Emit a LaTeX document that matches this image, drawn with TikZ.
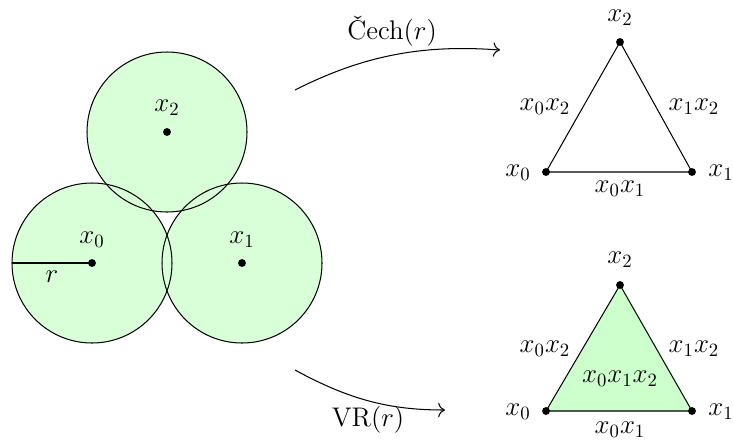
\documentclass[tikz,border=0pt]{standalone}
\usetikzlibrary{arrows.meta}
\begin{document}
\begin{tikzpicture}[x=0.0188cm,y=-0.0188cm,line width=0.55pt,
  ball/.style={fill=green!15},
  ballline/.style={draw=black},
  pt/.style={fill=black},
  lbl/.style={inner sep=1pt,font=\Large},
  arr/.style={-{To[scale=1.3]}},
  simplex/.style={fill=green!20}]
\useasboundingbox (0,0) rectangle (733,439);
% balls
\coordinate (b0) at (92,263);
\coordinate (b1) at (242,263);
\coordinate (b2) at (167,132);
\foreach \c in {b0,b1,b2} \fill[ball] (\c) circle (80);
\foreach \c in {b0,b1,b2} \draw[ballline] (\c) circle (80);
\coordinate (redge) at (12,263);
\draw (redge) -- (b0);
\node[lbl] (rl) at (52,277) {$r$};
\foreach \c in {b0,b1,b2} \fill[pt] (\c) circle (2.1pt);
\node[lbl] (lb0) at (92,240) {$x_0$};
\node[lbl] (lb1) at (242,240) {$x_1$};
\node[lbl] (lb2) at (167,108) {$x_2$};
% arrows
\coordinate (a1s) at (295,90);
\coordinate (a1e) at (500,50);
\draw[arr] (a1s) .. controls (370,52) and (430,45) .. (a1e);
\node[lbl] (cech) at (392,31) {\v{C}ech$(r)$};
\coordinate (a2s) at (295,370);
\coordinate (a2e) at (445,410);
\draw[arr] (a2s) .. controls (350,400) and (390,410) .. (a2e);
\node[lbl] (vr) at (368,420) {VR$(r)$};
% Cech complex
\coordinate (c0) at (546,172);
\coordinate (c1) at (692,172);
\coordinate (c2) at (620,42);
\draw (c0) -- (c1) -- (c2) -- cycle;
\foreach \c in {c0,c1,c2} \fill[pt] (\c) circle (2.1pt);
\node[lbl] (lc0) at (518,173) {$x_0$};
\node[lbl] (lc1) at (721,173) {$x_1$};
\node[lbl] (lc2) at (620,18) {$x_2$};
\node[lbl] (lc02) at (545,107) {$x_0x_2$};
\node[lbl] (lc12) at (694,107) {$x_1x_2$};
\node[lbl] (lc01) at (620,189) {$x_0x_1$};
% VR complex
\coordinate (v0) at (546,411);
\coordinate (v1) at (692,411);
\coordinate (v2) at (620,285);
\filldraw[simplex] (v0) -- (v1) -- (v2) -- cycle;
\foreach \c in {v0,v1,v2} \fill[pt] (\c) circle (2.1pt);
\node[lbl] (lv0) at (518,412) {$x_0$};
\node[lbl] (lv1) at (721,412) {$x_1$};
\node[lbl] (lv2) at (620,260) {$x_2$};
\node[lbl] (lv02) at (545,349) {$x_0x_2$};
\node[lbl] (lv12) at (694,349) {$x_1x_2$};
\node[lbl] (lv012) at (620,379) {$x_0x_1x_2$};
\node[lbl] (lv01) at (620,430) {$x_0x_1$};
\end{tikzpicture}
\end{document}
